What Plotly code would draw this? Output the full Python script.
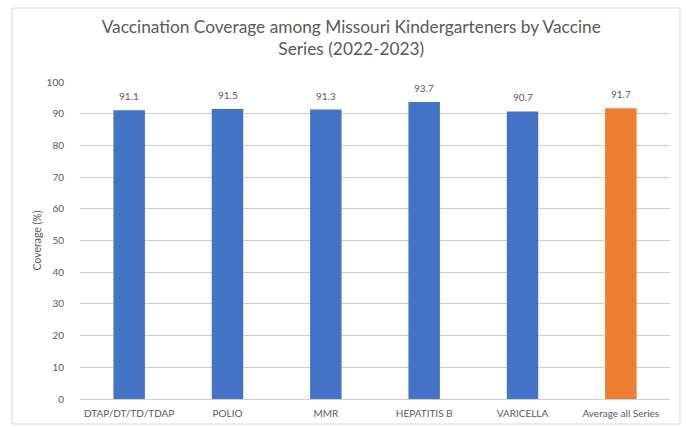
import plotly.graph_objects as go

categories = ["DTAP/DT/TD/TDAP", "POLIO", "MMR", "HEPATITIS B", "VARICELLA", "Average all Series"]
coverage = [91.1, 91.5, 91.3, 93.7, 90.7, 91.7]
bar_colors = ["#4472C4", "#4472C4", "#4472C4", "#4472C4", "#4472C4", "#ED7D31"]
y_ticks = [0, 10, 20, 30, 40, 50, 60, 70, 80, 90, 100]

FONT = "Lato, Open Sans, sans-serif"
GRAY = "#595959"

fig = go.Figure(go.Bar(
    x=categories,
    y=coverage,
    marker=dict(color=bar_colors, line=dict(width=0)),
))

for c, v in zip(categories, coverage):
    fig.add_annotation(
        x=c, y=v, text=f"{v:.1f}", showarrow=False,
        yanchor="bottom", yshift=6,
        font=dict(family=FONT, size=10, color=GRAY),
    )

fig.update_layout(
    width=686, height=427,
    margin=dict(l=80, r=16, t=82, b=28),
    paper_bgcolor="white", plot_bgcolor="white",
    bargap=0.68,
    showlegend=False,
    title=dict(
        text="Vaccination Coverage among Missouri Kindergarteners by Vaccine<br>Series (2022-2023)",
        x=0.512, xref="container", xanchor="center",
        y=0.923, yref="container", yanchor="middle",
        font=dict(family=FONT, size=17.3, color=GRAY),
    ),
    font=dict(family=FONT, color=GRAY),
    xaxis=dict(
        showgrid=False, showline=True, linecolor="#CFCFCF", linewidth=1,
        ticks="", automargin=False, ticklabelstandoff=5,
        tickfont=dict(family=FONT, size=10, color=GRAY),
    ),
    yaxis=dict(
        range=[0, 100], tickvals=y_ticks, showgrid=True, gridcolor="#CDCDCD",
        gridwidth=1, zeroline=False, showline=False, ticks="", automargin=False,
        ticklabelstandoff=15,
        tickfont=dict(family=FONT, size=10, color=GRAY),
        title=dict(text="Coverage (%)", font=dict(family=FONT, size=10.5, color=GRAY), standoff=2),
    ),
    shapes=[dict(
        type="rect", xref="paper", yref="paper",
        x0=(12 - 80) / 590, x1=(680 - 80) / 590,
        y0=(399 - 424) / 317, y1=(399 - 8) / 317,
        line=dict(color="#D9D9D9", width=1), fillcolor="rgba(0,0,0,0)", layer="below",
    )],
)

fig.write_html(
    "out.html",
    config={"displayModeBar": False},
    post_script="document.body.style.margin='0';document.body.style.overflow='hidden';",
)
